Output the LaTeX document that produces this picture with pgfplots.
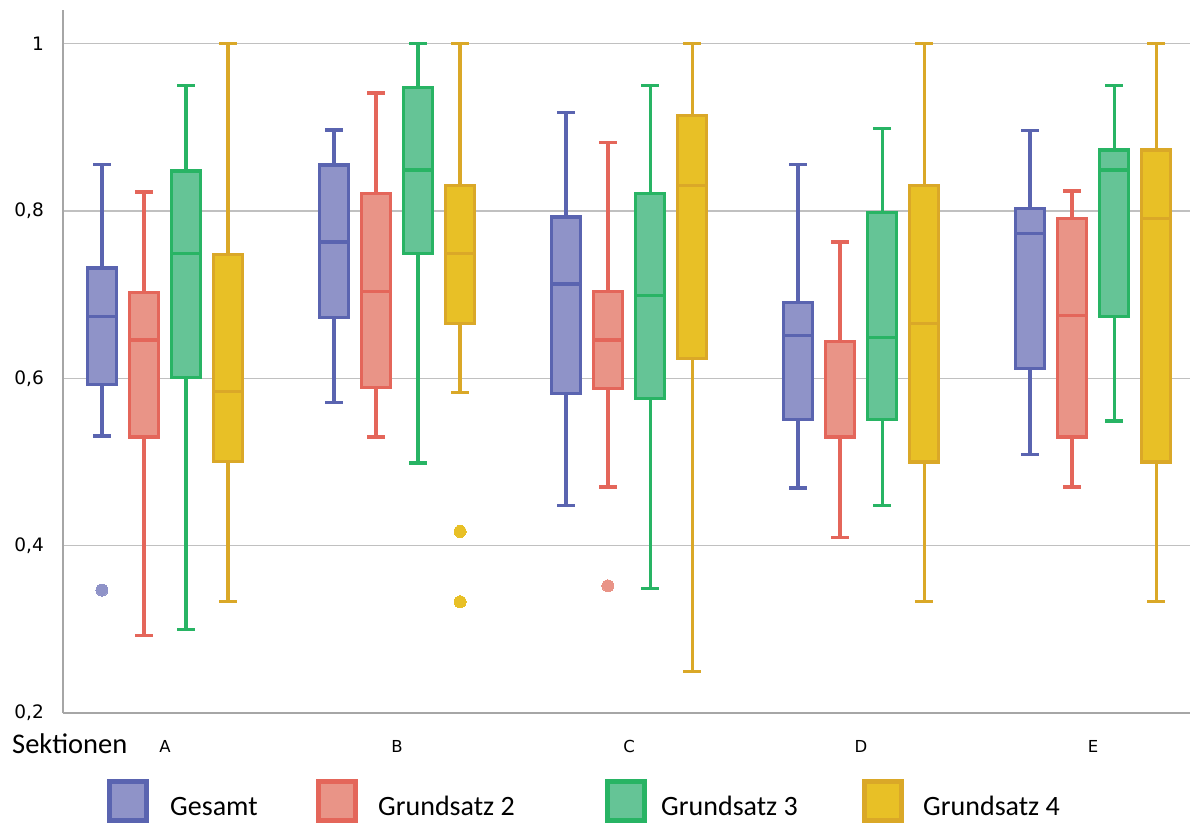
\documentclass[border=0pt]{standalone}
\usepackage{fontspec}
\setmainfont{Carlito}
\newfontfamily\dejavu{DejaVu Sans}
\usepackage{pgfplots}
\pgfplotsset{compat=1.18}
\usepgfplotslibrary{statistics}

\definecolor{gD}{RGB}{90,100,176}
\definecolor{gF}{RGB}{143,147,200}
\definecolor{rD}{RGB}{228,102,90}
\definecolor{rF}{RGB}{233,148,135}
\definecolor{eD}{RGB}{40,180,100}
\definecolor{eF}{RGB}{101,196,150}
\definecolor{yD}{RGB}{218,168,40}
\definecolor{yF}{RGB}{232,192,38}
\definecolor{axisgray}{RGB}{166,166,166}
\definecolor{gridgray}{RGB}{192,192,192}

\pgfplotsset{
  sG/.style={draw=gD, fill=gF, line width=3.3pt, mark=*, mark size=6pt, mark options={draw=gF, fill=gF, line width=0pt}},
  sR/.style={draw=rD, fill=rF, line width=3.3pt, mark=*, mark size=6pt, mark options={draw=rF, fill=rF, line width=0pt}},
  sE/.style={draw=eD, fill=eF, line width=3.3pt, mark=*, mark size=6pt, mark options={draw=eF, fill=eF, line width=0pt}},
  sY/.style={draw=yD, fill=yF, line width=3.3pt, mark=*, mark size=6pt, mark options={draw=yF, fill=yF, line width=0pt}},
}

\begin{document}
\begin{tikzpicture}
\path[use as bounding box] (-63pt,-112pt) rectangle (1127pt,713pt);
\begin{axis}[
  scale only axis, width=1127pt, height=703pt,
  xmin=-0.4397, xmax=4.418, ymin=0.2, ymax=1.0404,
  axis x line=bottom, axis y line=left,
  axis line style={-, draw=axisgray, line width=1.3pt},
  xtick={0,1,2,3,4}, xticklabels={A,B,C,D,E},
  ytick={0.2,0.4,0.6,0.8,1}, yticklabels={{0,2},{0,4},{0,6},{0,8},1},
  ymajorgrids, grid style={draw=gridgray, line width=1.3pt},
  major tick length=0pt,
  xticklabel style={font=\dejavu\fontsize{16.5}{18}\selectfont, anchor=base, yshift=-39pt},
  yticklabel style={font=\dejavu\fontsize{18.5}{20}\selectfont, anchor=east, xshift=-19pt, inner sep=0pt},
  boxplot/draw direction=y,
  boxplot/box extend=0.125, boxplot/whisker extend=0.075,
  clip=false,
]
% ---- A ----
\addplot[sG, boxplot prepared={draw position=-0.272, lower whisker=0.531, lower quartile=0.593, median=0.674, upper quartile=0.732, upper whisker=0.856}] table[row sep=\\, y index=0]{y\\0.347\\};
\addplot[sR, boxplot prepared={draw position=-0.091, lower whisker=0.293, lower quartile=0.530, median=0.646, upper quartile=0.703, upper whisker=0.823}] coordinates {};
\addplot[sE, boxplot prepared={draw position=0.091, lower whisker=0.300, lower quartile=0.601, median=0.749, upper quartile=0.848, upper whisker=0.950}] coordinates {};
\addplot[sY, boxplot prepared={draw position=0.272, lower whisker=0.333, lower quartile=0.501, median=0.584, upper quartile=0.748, upper whisker=1.000}] coordinates {};
% ---- B ----
\addplot[sG, boxplot prepared={draw position=0.728, lower whisker=0.571, lower quartile=0.673, median=0.763, upper quartile=0.855, upper whisker=0.897}] coordinates {};
\addplot[sR, boxplot prepared={draw position=0.909, lower whisker=0.530, lower quartile=0.589, median=0.704, upper quartile=0.821, upper whisker=0.941}] coordinates {};
\addplot[sE, boxplot prepared={draw position=1.091, lower whisker=0.499, lower quartile=0.749, median=0.849, upper quartile=0.948, upper whisker=1.000}] coordinates {};
\addplot[sY, boxplot prepared={draw position=1.272, lower whisker=0.583, lower quartile=0.666, median=0.749, upper quartile=0.831, upper whisker=1.000}] table[row sep=\\, y index=0]{y\\0.417\\0.333\\};
% ---- C ----
\addplot[sG, boxplot prepared={draw position=1.728, lower whisker=0.448, lower quartile=0.582, median=0.713, upper quartile=0.793, upper whisker=0.918}] coordinates {};
\addplot[sR, boxplot prepared={draw position=1.909, lower whisker=0.470, lower quartile=0.588, median=0.646, upper quartile=0.704, upper whisker=0.882}] table[row sep=\\, y index=0]{y\\0.352\\};
\addplot[sE, boxplot prepared={draw position=2.091, lower whisker=0.349, lower quartile=0.576, median=0.699, upper quartile=0.821, upper whisker=0.950}] coordinates {};
\addplot[sY, boxplot prepared={draw position=2.272, lower whisker=0.250, lower quartile=0.624, median=0.831, upper quartile=0.914, upper whisker=1.000}] coordinates {};
% ---- D ----
\addplot[sG, boxplot prepared={draw position=2.728, lower whisker=0.469, lower quartile=0.551, median=0.651, upper quartile=0.691, upper whisker=0.856}] coordinates {};
\addplot[sR, boxplot prepared={draw position=2.909, lower whisker=0.410, lower quartile=0.529, median=0.530, upper quartile=0.644, upper whisker=0.763}] coordinates {};
\addplot[sE, boxplot prepared={draw position=3.091, lower whisker=0.448, lower quartile=0.551, median=0.649, upper quartile=0.798, upper whisker=0.899}] coordinates {};
\addplot[sY, boxplot prepared={draw position=3.272, lower whisker=0.333, lower quartile=0.500, median=0.666, upper quartile=0.831, upper whisker=1.000}] coordinates {};
% ---- E ----
\addplot[sG, boxplot prepared={draw position=3.728, lower whisker=0.509, lower quartile=0.612, median=0.773, upper quartile=0.803, upper whisker=0.896}] coordinates {};
\addplot[sR, boxplot prepared={draw position=3.909, lower whisker=0.470, lower quartile=0.530, median=0.675, upper quartile=0.791, upper whisker=0.824}] coordinates {};
\addplot[sE, boxplot prepared={draw position=4.091, lower whisker=0.549, lower quartile=0.674, median=0.849, upper quartile=0.873, upper whisker=0.950}] coordinates {};
\addplot[sY, boxplot prepared={draw position=4.272, lower whisker=0.333, lower quartile=0.500, median=0.791, upper quartile=0.873, upper whisker=1.000}] coordinates {};
\end{axis}
% axis title
\node[anchor=base west, inner sep=0pt, font=\fontsize{28.5}{30}\selectfont] at (-51pt,-40pt) {Sektionen};
% legend
\begin{scope}[line width=5pt]
\draw[draw=gD, fill=gF] (46.5pt,-68.5pt) rectangle (83.5pt,-107.5pt);
\draw[draw=rD, fill=rF] (255.5pt,-68.5pt) rectangle (292.5pt,-107.5pt);
\draw[draw=eD, fill=eF] (544.5pt,-68.5pt) rectangle (581.5pt,-107.5pt);
\draw[draw=yD, fill=yF] (801.5pt,-68.5pt) rectangle (838.5pt,-107.5pt);
\end{scope}
\begin{scope}[every node/.style={anchor=base west, inner sep=0pt, font=\fontsize{28}{30}\selectfont}]
\node at (107pt,-102pt) {Gesamt};
\node at (315pt,-102pt) {Grundsatz 2};
\node at (598pt,-102pt) {Grundsatz 3};
\node at (860pt,-102pt) {Grundsatz 4};
\end{scope}
\end{tikzpicture}
\end{document}
